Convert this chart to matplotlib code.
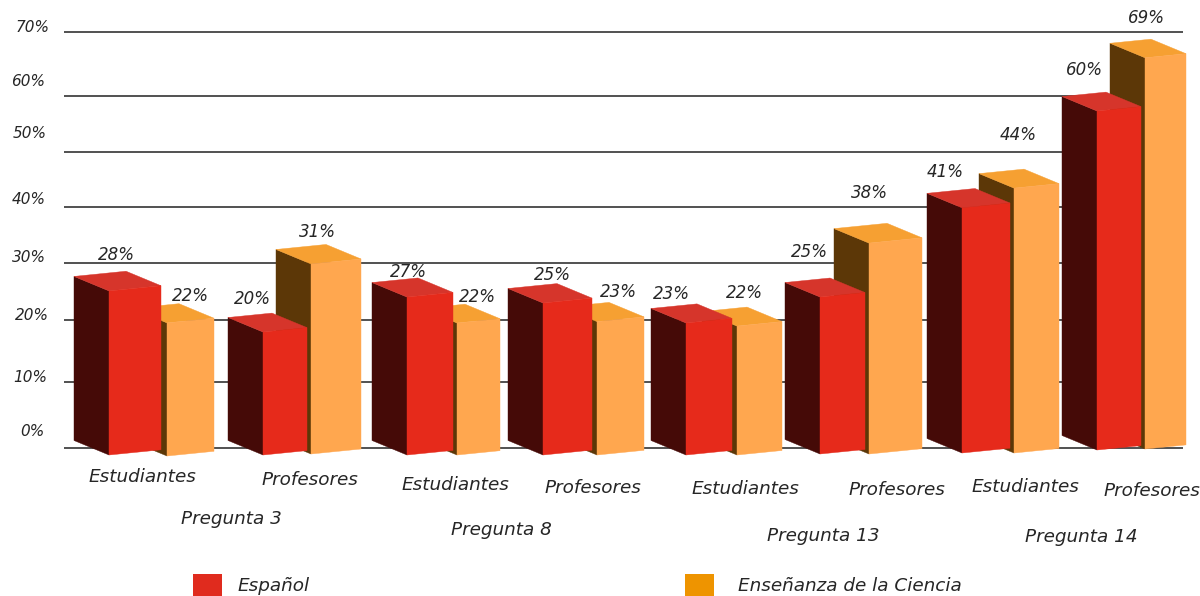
import matplotlib
matplotlib.use('Agg')
import matplotlib.pyplot as plt
from matplotlib.patches import Polygon, Rectangle

# Values
categories = ['Estudiantes', 'Profesores'] * 4
preguntas = ['Pregunta 3', 'Pregunta 8', 'Pregunta 13', 'Pregunta 14']
espanol = [28, 20, 27, 25, 23, 25, 41, 60]
ciencia = [22, 31, 22, 23, 22, 38, 44, 69]
y_labels = ['70%', '60%', '50%', '40%', '30%', '20%', '10%', '0%']

# Layout of the fake 3D picture, in pixels (x of front left, x of front right, y of base, px per %)
esp_x = [(109, 161), (263, 307), (407, 453), (543, 592), (686, 732), (820, 865), (962, 1010), (1097, 1141)]
esp_base = [455, 455, 455, 455, 455, 454, 453, 450]
esp_scale = [5.86, 6.15, 5.85, 6.08, 5.74, 6.28, 5.98, 5.65]
cie_x = [(167, 214), (311, 361), (457, 500), (597, 644), (737, 782), (869, 922), (1014, 1059), (1145, 1186)]
cie_base = [456, 454, 455, 455, 455, 454, 453, 449]
cie_scale = [6.05, 6.13, 6.0, 5.8, 5.86, 5.55, 6.02, 5.67]

grid_y = [32, 96, 152, 207, 263, 320, 382, 448]
y_label_pos = [(33, 27), (28, 82), (30, 134), (29, 199), (29, 257), (32, 316), (30, 377), (32, 431)]
esp_label_pos = [(116, 255), (252, 299), (408, 272), (552, 275), (671, 294), (809, 252), (945, 172), (1084, 70)]
cie_label_pos = [(190, 296), (317, 232), (477, 297), (618, 292), (744, 293), (869, 193), (1018, 135), (1146, 18)]
cat_pos = [(142, 477), (310, 480), (455, 485), (593, 488), (745, 489), (897, 490), (1025, 487), (1152, 491)]
preg_pos = [(231, 519), (501, 530), (823, 536), (1081, 537)]

RED = ('#e62a1b', '#d6352b', '#450a07')
ORANGE = ('#ffa74f', '#f6a032', '#5c3707')
DEPTH_X = 35
DEPTH_Y = 14.5
TEXT = '#262626'


def draw_bar(ax, value, x0, x1, base, scale, colors):
    front, top, side = colors
    y = base - value * scale
    # front edge climbs a little to the right
    s = 0.1 * (x1 - x0)
    ax.add_patch(Polygon([(x0, y), (x0 - DEPTH_X, y - DEPTH_Y), (x0 - DEPTH_X, base - DEPTH_Y), (x0, base)],
                         facecolor=side, edgecolor=side, lw=0.3, zorder=2))
    ax.add_patch(Polygon([(x0, y), (x1, y - s), (x1 - DEPTH_X, y - s - DEPTH_Y), (x0 - DEPTH_X, y - DEPTH_Y)],
                         facecolor=top, edgecolor=top, lw=0.3, zorder=2))
    ax.add_patch(Polygon([(x0, y), (x1, y - s), (x1, base - s), (x0, base)],
                         facecolor=front, edgecolor=front, lw=0.3, zorder=2))


fig = plt.figure(figsize=(12, 5.96), dpi=100)
ax = fig.add_axes([0, 0, 1, 1])
ax.set_xlim(0, 1200)
ax.set_ylim(596, 0)
ax.axis('off')

ax.hlines(grid_y, 64, 1183, color='#333333', lw=1.2, zorder=1)

# orange goes first, the red bar of the same pair sits in front of it
for i in range(len(espanol)):
    draw_bar(ax, ciencia[i], cie_x[i][0], cie_x[i][1], cie_base[i], cie_scale[i], ORANGE)
    draw_bar(ax, espanol[i], esp_x[i][0], esp_x[i][1], esp_base[i], esp_scale[i], RED)

font = dict(family='DejaVu Sans', style='italic', color=TEXT, ha='center', va='center')

for lab, (x, y) in zip(y_labels, y_label_pos):
    ax.text(x, y, lab, fontsize=11, **font)
for v, (x, y) in zip(espanol, esp_label_pos):
    ax.text(x, y, f'{v}%', fontsize=12, **font)
for v, (x, y) in zip(ciencia, cie_label_pos):
    ax.text(x, y, f'{v}%', fontsize=12, **font)
for lab, (x, y) in zip(categories, cat_pos):
    ax.text(x, y, lab, fontsize=13.2, **font)
for lab, (x, y) in zip(preguntas, preg_pos):
    ax.text(x, y, lab, fontsize=13.2, **font)

# legend, cut off by the bottom edge like the original
ax.add_patch(Rectangle((193, 574), 29, 24, facecolor='#e02b1e', edgecolor='none'))
ax.add_patch(Rectangle((685, 574), 29, 24, facecolor='#ee9400', edgecolor='none'))
font['ha'] = 'left'
ax.text(238, 586, 'Español', fontsize=13.2, **font)
ax.text(738, 586, 'Enseñanza de la Ciencia', fontsize=13.2, **font)

fig.savefig('out.png', dpi=100)
